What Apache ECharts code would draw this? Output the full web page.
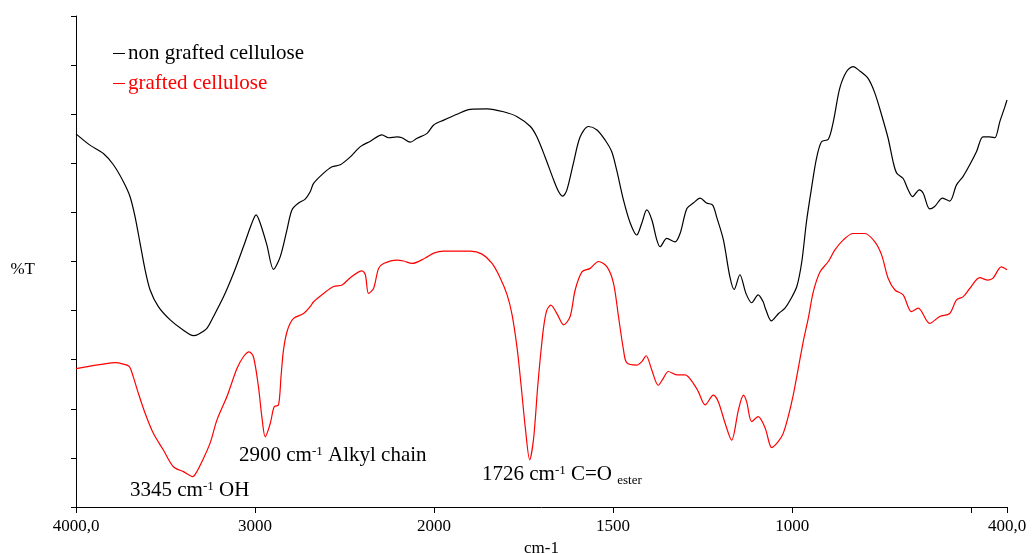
<!DOCTYPE html>
<html>
<head>
<meta charset="utf-8">
<script src="https://cdn.jsdelivr.net/npm/echarts@6/dist/echarts.min.js"></script>
<style>
html,body{margin:0;padding:0;background:#fff;}
#chart{width:1032px;height:553px;}
</style>
</head>
<body>
<div id="chart"></div>
<script>
// wavenumbers (cm-1) and transmittance (%T)
const blackWn = [4000,3922,3847,3791,3736,3698,3670,3642,3614,3586,3540,3474,3400,3344,3316,3269,3232,3176,3120,3065,3018,2994,2971,2934,2897,2859,2822,2794,2757,2720,2692,2673,2617,2570,2524,2468,2412,2356,2291,2254,2207,2179,2133,2095,2039,2002,1973,1936,1899,1852,1806,1768,1731,1713,1690,1666,1652,1641,1629,1611,1592,1569,1545,1522,1504,1490,1471,1452,1434,1420,1406,1392,1378,1369,1350,1327,1313,1294,1276,1257,1239,1222,1211,1192,1174,1162,1146,1129,1113,1095,1081,1075,1058,1038,1020,1005,987,973,960,946,932,918,899,885,867,848,830,811,788,769,750,732,718,708,690,676,664,645,634,616,602,580,560,541,523,504,485,467,448,434,420,406,400];
const blackT = [76.0,73.7,72.0,69.7,66.3,63.2,59.1,53.7,48.3,44.2,40.8,38.1,36.0,34.9,35.2,36.4,38.8,42.8,47.6,53.0,57.8,59.5,57.8,53.4,48.4,51.0,56.4,60.5,61.9,62.7,64.2,65.9,68.0,69.3,69.7,71.3,73.4,74.5,75.8,75.2,75.4,75.2,74.3,75.1,76.1,77.8,78.8,80.0,81.0,81.1,80.5,79.5,77.5,75.4,71.3,66.6,64.2,63.3,64.6,70.0,75.4,77.5,76.8,74.7,72.4,68.6,62.5,57.8,55.4,57.8,60.5,58.5,54.4,53.0,54.7,54.0,55.7,60.8,61.9,62.9,61.9,61.5,59.1,54.4,46.9,44.3,47.3,43.5,41.6,43.2,41.8,40.5,37.9,39.4,40.5,42.2,44.9,50.0,58.1,64.9,71.0,74.4,74.9,78.5,85.3,88.7,89.7,88.8,87.3,84.3,79.8,75.1,70.3,68.0,66.9,64.6,63.2,64.6,63.9,60.7,61.2,62.9,62.3,65.6,67.3,69.7,72.4,75.4,75.4,75.2,78.5,81.5,82.9];

const redWn = [4000,3922,3847,3782,3736,3702,3680,3652,3614,3568,3512,3456,3400,3348,3325,3297,3251,3213,3157,3101,3065,3033,3009,2981,2962,2943,2915,2893,2869,2855,2841,2819,2785,2729,2692,2673,2617,2561,2514,2468,2403,2384,2366,2338,2310,2282,2207,2170,2123,2049,2002,1973,1899,1866,1838,1815,1796,1782,1768,1757,1745,1733,1722,1711,1704,1694,1685,1674,1657,1638,1620,1606,1587,1564,1541,1517,1499,1485,1471,1462,1434,1420,1408,1392,1374,1360,1346,1322,1299,1276,1262,1243,1220,1206,1187,1169,1150,1136,1127,1113,1095,1075,1057,1039,1025,1011,997,983,969,955,941,922,899,881,857,830,797,769,750,732,713,690,667,648,616,588,560,541,523,504,476,453,439,416,400];
const redT = [28.2,28.7,29.1,29.4,29.1,28.6,26.5,23.2,19.1,15.0,11.6,8.2,7.2,6.2,7.2,9.2,13.0,17.7,22.5,28.2,30.6,31.6,30.6,24.5,18.4,14.3,17.0,20.4,20.8,26.5,32.0,36.0,38.4,39.4,40.8,41.8,43.5,44.9,45.2,46.7,48.1,47.3,43.5,44.5,48.6,49.6,50.3,50.1,49.6,50.7,51.7,52.1,52.1,51.5,49.6,46.6,43.2,39.1,32.3,24.8,16.0,9.6,14.0,24.2,29.9,36.7,40.1,41.1,39.4,37.1,38.8,44.2,47.9,48.6,50.0,48.9,45.6,38.8,32.0,29.4,28.9,29.6,30.8,27.9,24.8,26.2,27.6,26.9,26.9,25.2,23.5,20.8,22.8,21.4,17.0,13.6,19.8,22.8,21.4,17.4,18.4,16.0,12.1,13.3,15.0,18.4,22.8,28.2,33.7,38.4,43.8,47.9,50.0,52.3,54.4,55.7,55.7,54.0,51.3,46.6,44.2,43.2,39.8,40.5,37.4,38.8,39.4,42.2,42.8,44.5,46.7,46.2,46.6,48.9,48.3];

const seriesNames = ['non grafted cellulose', 'grafted cellulose'];
const tickWn = [4000, 3000, 2000, 1500, 1000, 500, 400];
const labelWn = [4000, 3000, 2000, 1500, 1000, 400];
const tickLabels = ['4000,0', '3000', '2000', '1500', '1000', '400,0'];
const yTicks = [0, 10, 20, 30, 40, 50, 60, 70, 80, 90, 100];

// x scale changes at 2000 cm-1 (region above 2000 compressed by 2)
const u = w => (w <= 2000 ? w : 2000 + (w - 2000) / 2);

const FONT = 'Liberation Serif, Times New Roman, serif';
const chart = echarts.init(document.getElementById('chart'), null, {renderer: 'canvas'});
chart.setOption({
  animation: false,
  backgroundColor: '#fff',
  grid: {left: 76, right: 25, top: 16, bottom: 46, containLabel: false, outerBoundsMode: 'none'},
  legend: {
    orient: 'vertical', left: 108, top: 38,
    icon: 'rect', itemWidth: 12, itemHeight: 1, itemGap: 9,
    textStyle: {fontFamily: FONT, fontSize: 21, padding: [0, 0, 0, -2]},
    data: [
      {name: seriesNames[0], textStyle: {color: '#000000'}},
      {name: seriesNames[1], textStyle: {color: '#ff0000'}}
    ]
  },
  xAxis: {
    type: 'value', inverse: true, min: u(400), max: u(4000),
    name: 'cm-1', nameLocation: 'middle', nameGap: 31,
    nameTextStyle: {fontFamily: FONT, fontSize: 17, color: '#000'},
    axisLine: {show: true, lineStyle: {color: '#000', width: 1}},
    axisTick: {show: true, length: 6, inside: false, customValues: tickWn.map(u), lineStyle: {color: '#000'}},
    axisLabel: {
      show: true, margin: 11, fontFamily: FONT, fontSize: 17, color: '#000',
      customValues: labelWn.map(u), hideOverlap: false, showMinLabel: true, showMaxLabel: true,
      formatter: v => { const i = labelWn.findIndex(w => Math.abs(u(w) - v) < 1e-6); return i >= 0 ? tickLabels[i] : ''; }
    },
    splitLine: {show: false}
  },
  yAxis: {
    type: 'value', min: 0, max: 100,
    name: '%T', nameLocation: 'middle', nameRotate: 0, nameGap: 41,
    nameTextStyle: {fontFamily: FONT, fontSize: 17, color: '#000', verticalAlign: 'top'},
    axisLine: {show: true, lineStyle: {color: '#000', width: 1}},
    axisTick: {show: true, length: 5, inside: false, customValues: yTicks, lineStyle: {color: '#000'}},
    axisLabel: {show: false},
    splitLine: {show: false}
  },
  series: [
    {
      name: seriesNames[0], type: 'line', showSymbol: false, symbol: 'none', smooth: 0.3,
      lineStyle: {color: '#000000', width: 1.2}, itemStyle: {color: '#000000'},
      data: blackWn.map((w, i) => [u(w), blackT[i]])
    },
    {
      name: seriesNames[1], type: 'line', showSymbol: false, symbol: 'none', smooth: 0.3,
      lineStyle: {color: '#ff0000', width: 1.2}, itemStyle: {color: '#ff0000'},
      data: redWn.map((w, i) => [u(w), redT[i]])
    }
  ],
  graphic: [
    {type: 'text', left: 130, top: 480, silent: true, style: {
      text: '{m|3345 cm}{s|-1}{m| OH}', fontFamily: FONT, fill: '#000',
      rich: {m: {fontSize: 21, lineHeight: 21, fontFamily: FONT, color: '#000'}, s: {fontSize: 13, lineHeight: 13, verticalAlign: 'top', fontFamily: FONT, color: '#000'}}
    }},
    {type: 'text', left: 239, top: 445, silent: true, style: {
      text: '{m|2900 cm}{s|-1}{m| Alkyl chain}', fontFamily: FONT, fill: '#000',
      rich: {m: {fontSize: 21, lineHeight: 21, fontFamily: FONT, color: '#000'}, s: {fontSize: 13, lineHeight: 13, verticalAlign: 'top', fontFamily: FONT, color: '#000'}}
    }},
    {type: 'text', left: 482, top: 464, silent: true, style: {
      text: '{m|1726 cm}{s|-1}{m| C=O }{b|ester}', fontFamily: FONT, fill: '#000',
      rich: {m: {fontSize: 21, lineHeight: 21, fontFamily: FONT, color: '#000'}, s: {fontSize: 13, lineHeight: 13, verticalAlign: 'top', fontFamily: FONT, color: '#000'}, b: {fontSize: 13, lineHeight: 13, verticalAlign: 'bottom', fontFamily: FONT, color: '#000', padding: [0, 0, -2, 0]}}
    }}
  ]
});
</script>
</body>
</html>
